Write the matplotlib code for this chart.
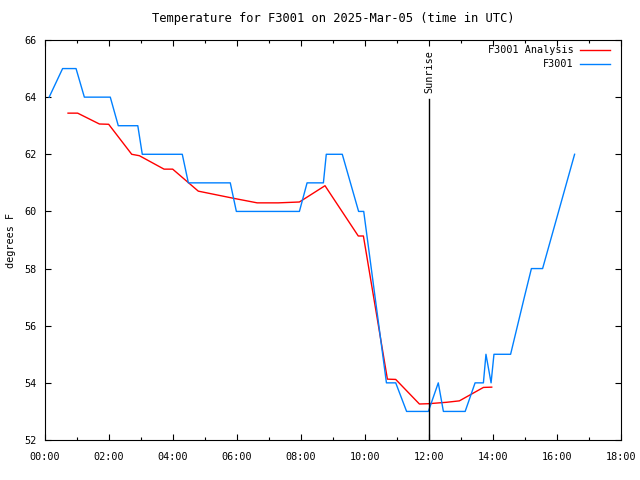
import numpy as np
import matplotlib
matplotlib.use('Agg')
import matplotlib.pyplot as plt
from matplotlib.ticker import MultipleLocator, FuncFormatter

# F3001 observations (hours UTC, degrees F)
obs_hours = [0.13, 0.55, 0.97, 1.23, 2.04, 2.29, 2.90, 3.04, 4.29, 4.48, 5.79, 5.98,
             7.95, 8.19, 8.70, 8.79, 9.29, 9.80, 9.96, 10.67, 10.96, 11.30, 11.98,
             12.29, 12.45, 13.13, 13.44, 13.70, 13.78, 13.94, 14.03, 14.55, 14.98,
             15.20, 15.55, 16.55]
obs_temps = [64, 65, 65, 64, 64, 63, 63, 62, 62, 61, 61, 60,
             60, 61, 61, 62, 62, 60, 60, 54, 54, 53, 53,
             54, 53, 53, 54, 54, 55, 54, 55, 55, 57,
             58, 58, 62]

# F3001 analysis
ana_hours = [0.72, 1.02, 1.70, 1.99, 2.71, 2.95, 3.72, 3.99, 4.79, 5.89, 6.63, 7.29,
             7.95, 8.75, 9.79, 9.95, 10.70, 10.96, 11.70, 11.98, 12.55, 12.95, 13.70, 13.96]
ana_temps = [63.44, 63.44, 63.06, 63.05, 62.0, 61.95, 61.48, 61.48, 60.71, 60.46, 60.30, 60.30,
             60.33, 60.90, 59.14, 59.14, 54.13, 54.12, 53.26, 53.27, 53.32, 53.37, 53.84, 53.85]

sunrise_hour = 12.0
station = 'F3001'

plt.rcParams['font.family'] = ['DejaVu Sans Mono']
plt.rcParams['font.size'] = 7.3

fig = plt.figure(figsize=(6.4, 4.8), dpi=100)
ax = fig.add_axes([45/640, 40/480, 576/640, 400/480])

ax.plot(ana_hours, ana_temps, color='#ff0000', lw=1, label=station + ' Analysis')
ax.plot(obs_hours, obs_temps, color='#0080ff', lw=1, label=station)

ax.plot([sunrise_hour, sunrise_hour], [52, 63.95], color='black', lw=1)
ax.text(sunrise_hour, 64.15, 'Sunrise', rotation=90, ha='center', va='bottom')

ax.set_xlim(0, 18)
ax.set_ylim(52, 66)
ax.xaxis.set_major_locator(MultipleLocator(2))
ax.xaxis.set_minor_locator(MultipleLocator(1))
ax.yaxis.set_major_locator(MultipleLocator(2))
ax.xaxis.set_major_formatter(FuncFormatter(lambda v, p: '%02d:00' % int(round(v))))
ax.tick_params(which='both', direction='in', top=True, right=True, width=0.8)
ax.tick_params(which='major', length=4)
ax.tick_params(axis='x', which='major', pad=9)
ax.tick_params(axis='y', which='major', pad=6)
ax.tick_params(which='minor', length=2)
for s in ax.spines.values():
    s.set_linewidth(0.8)

ax.set_ylabel('degrees F')
ax.yaxis.set_label_coords(-0.05, 0.5)
ax.set_title('Temperature for %s on 2025-Mar-05 (time in UTC)' % station, pad=13)

leg = ax.legend(loc='upper right', bbox_to_anchor=(1, 1.015), frameon=False,
                markerfirst=False, handlelength=2.9, borderaxespad=0.7,
                labelspacing=0.4, handletextpad=0.7)
for t in leg.get_texts():
    t.set_ha('right')

fig.savefig('out.png', dpi=100)
